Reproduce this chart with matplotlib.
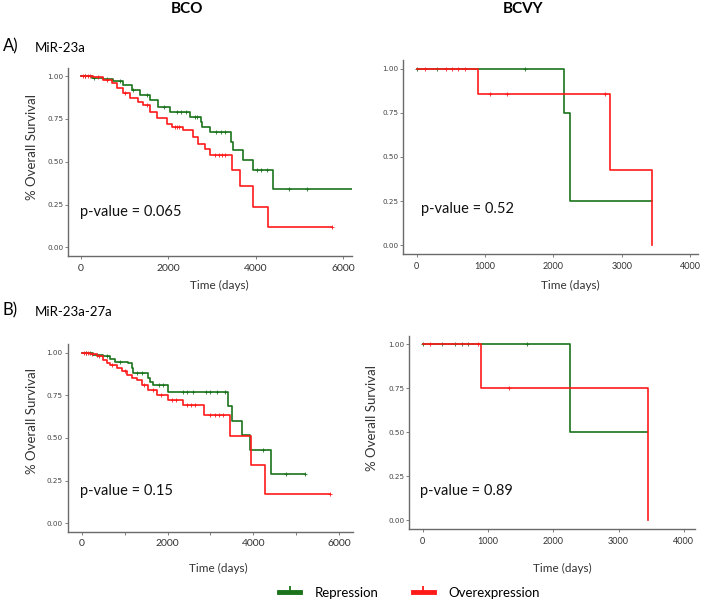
import numpy as np
import matplotlib
matplotlib.use("Agg")
import matplotlib.pyplot as plt
from matplotlib.lines import Line2D

plt.rcParams['font.family'] = ['Lato', 'DejaVu Sans']

# ---- data ----
# A) MiR-23a, BCO
a_bco_rep_t = [0, 250, 510, 740, 970, 1160, 1350, 1580, 1770, 2040, 2500, 2750, 2780, 2950, 3430, 3470, 3720, 3950, 4390]
a_bco_rep_s = [1.0, 0.99, 0.982, 0.971, 0.947, 0.918, 0.889, 0.86, 0.82, 0.79, 0.762, 0.733, 0.703, 0.674, 0.616, 0.567, 0.509, 0.45, 0.339]
a_bco_rep_end = 6400
a_bco_rep_cens = [100, 300, 600, 900, 1200, 1500, 1900, 2200, 2300, 2400, 2600, 2650, 3100, 3200, 3300, 4020, 4130, 4250, 4770, 5170]
a_bco_ove_t = [0, 280, 510, 700, 820, 970, 1120, 1310, 1430, 1580, 1730, 1960, 2080, 2340, 2570, 2690, 2840, 2950, 3465, 3640, 3930, 4275]
a_bco_ove_s = [1.0, 0.996, 0.977, 0.957, 0.928, 0.899, 0.87, 0.85, 0.83, 0.79, 0.753, 0.723, 0.704, 0.684, 0.645, 0.606, 0.577, 0.538, 0.45, 0.357, 0.236, 0.119]
a_bco_ove_end = 5755
a_bco_ove_cens = [50, 100, 150, 200, 400, 600, 1000, 1500, 2150, 2200, 2250, 3070, 3150, 3230, 3300, 5755]

# A) MiR-23a, BCVY
a_bcvy_rep_t = [0, 2160, 2243]
a_bcvy_rep_s = [1.0, 0.75, 0.25]
a_bcvy_rep_end = 3440
a_bcvy_rep_cens = [0, 293, 1585]
a_bcvy_ove_t = [0, 892, 2828, 3440]
a_bcvy_ove_s = [1.0, 0.857, 0.4286, 0.0]
a_bcvy_ove_end = 3440
a_bcvy_ove_cens = [122, 424, 512, 610, 707, 1073, 1317, 2755]

# B) MiR-23a-27a, BCO
b_bco_rep_t = [0, 270, 500, 660, 775, 1085, 1165, 1200, 1550, 1590, 1665, 2015, 3410, 3490, 3735, 3930, 4400]
b_bco_rep_s = [1.0, 0.986, 0.977, 0.963, 0.947, 0.938, 0.909, 0.879, 0.85, 0.83, 0.81, 0.771, 0.688, 0.601, 0.518, 0.43, 0.289]
b_bco_rep_end = 5193
b_bco_rep_cens = [100, 200, 350, 600, 900, 1300, 1400, 1800, 1900, 2370, 2450, 2600, 2900, 3000, 3150, 3340, 4220, 4770, 5193]
b_bco_ove_t = [0, 190, 350, 500, 580, 660, 815, 930, 1045, 1165, 1280, 1395, 1550, 1745, 2015, 2365, 2844, 3465, 3953, 4263]
b_bco_ove_s = [1.0, 0.99, 0.977, 0.957, 0.938, 0.928, 0.909, 0.889, 0.869, 0.85, 0.84, 0.81, 0.781, 0.752, 0.723, 0.693, 0.635, 0.508, 0.342, 0.172]
b_bco_ove_end = 5774
b_bco_ove_cens = [50, 100, 150, 250, 400, 700, 1000, 1450, 1650, 1850, 2100, 2200, 2450, 2550, 2650, 3000, 3100, 3200, 3300, 5774]

# B) MiR-23a-27a, BCVY
b_bcvy_rep_t = [0, 2255]
b_bcvy_rep_s = [1.0, 0.5]
b_bcvy_rep_end = 3430
b_bcvy_rep_cens = [0, 290, 494, 597, 699, 1592]
b_bcvy_ove_t = [0, 893, 3444]
b_bcvy_ove_s = [1.0, 0.75, 0.0]
b_bcvy_ove_end = 3444
b_bcvy_ove_cens = [112, 842, 1326]

pvalues = ["p-value = 0.065", "p-value = 0.52", "p-value = 0.15", "p-value = 0.89"]
groups = ["Repression", "Overexpression"]

GREEN = "#1b731b"
RED = "#ff1a1a"
AXC = "#6a6a6a"

W, H = 701, 610
fig = plt.figure(figsize=(W / 100, H / 100), dpi=100)


def px_axes(l, t, r, b):
    return fig.add_axes([l / W, 1 - b / H, (r - l) / W, (b - t) / H])


def km(ax, t, s, end, cens, color):
    tt = list(t) + [end]
    ss = list(s) + [s[-1]]
    ax.step(tt, ss, where='post', color=color, lw=1.2)
    idx = np.searchsorted(t, cens, side='right') - 1
    ax.plot(cens, np.array(s)[idx], ls='none', marker='+', ms=2.6, mew=0.6, color=color)


def style(ax, xlim, xticks, xsize, minor=None):
    ax.set_xlim(*xlim)
    ax.set_ylim(-0.05, 1.05)
    ax.set_xticks(xticks)
    if minor is not None:
        ax.set_xticks(minor, minor=True)
        ax.tick_params(axis='x', which='minor', length=2, color=AXC, width=0.6)
    ax.set_yticks([0, 0.25, 0.5, 0.75, 1.0])
    ax.set_yticklabels(["0.00", "0.25", "0.50", "0.75", "1.00"], family='DejaVu Sans', fontsize=5.2, color='#444444')
    ax.tick_params(axis='x', labelsize=xsize, colors='#333333', length=2.5, width=0.6, pad=3)
    ax.tick_params(axis='x', labelcolor='#333333', color=AXC)
    ax.tick_params(axis='y', length=2, width=0.6, pad=1.5, color=AXC)
    for sp in ['top', 'right']:
        ax.spines[sp].set_visible(False)
    for sp in ['left', 'bottom']:
        ax.spines[sp].set_color(AXC)
        ax.spines[sp].set_linewidth(1.0)


def xlabel(ax, cx, cy):
    bb = ax.get_position()
    ax.set_xlabel("Time (days)", fontsize=8.5, color='#333333')
    ax.xaxis.set_label_coords((cx / W - bb.x0) / bb.width, ((1 - cy / H) - bb.y0) / bb.height)
    ax.xaxis.label.set_va('center')


def ylabel(ax, cx, cy):
    bb = ax.get_position()
    ax.set_ylabel("% Overall Survival", fontsize=9.5, color='#333333')
    ax.yaxis.set_label_coords((cx / W - bb.x0) / bb.width, ((1 - cy / H) - bb.y0) / bb.height)
    ax.yaxis.label.set_va('center')


# A left
ax1 = px_axes(68, 67.5, 352, 256)
km(ax1, a_bco_rep_t, a_bco_rep_s, a_bco_rep_end, a_bco_rep_cens, GREEN)
km(ax1, a_bco_ove_t, a_bco_ove_s, a_bco_ove_end, a_bco_ove_cens, RED)
style(ax1, (-298, 6206), [0, 2000, 4000, 6000], 7.5)
xlabel(ax1, 219, 285)
ylabel(ax1, 32, 147)

# A right
ax2 = px_axes(403, 60, 698, 254)
km(ax2, a_bcvy_rep_t, a_bcvy_rep_s, a_bcvy_rep_end, a_bcvy_rep_cens, GREEN)
km(ax2, a_bcvy_ove_t, a_bcvy_ove_s, a_bcvy_ove_end, a_bcvy_ove_cens, RED)
style(ax2, (-200, 4116), [0, 1000, 2000, 3000, 4000], 6.5)
xlabel(ax2, 570, 285)

# B left
ax3 = px_axes(67.5, 344, 353, 531.7)
km(ax3, b_bco_rep_t, b_bco_rep_s, b_bco_rep_end, b_bco_rep_cens, GREEN)
km(ax3, b_bco_ove_t, b_bco_ove_s, b_bco_ove_end, b_bco_ove_cens, RED)
style(ax3, (-330, 6320), [0, 2000, 4000, 6000], 7.5, minor=[1000, 3000, 5000])
xlabel(ax3, 218, 568)
ylabel(ax3, 32, 421)

# B right
ax4 = px_axes(409, 335.7, 695, 529)
km(ax4, b_bcvy_rep_t, b_bcvy_rep_s, b_bcvy_rep_end, b_bcvy_rep_cens, GREEN)
km(ax4, b_bcvy_ove_t, b_bcvy_ove_s, b_bcvy_ove_end, b_bcvy_ove_cens, RED)
style(ax4, (-210, 4170), [0, 1000, 2000, 3000, 4000], 6.5)
xlabel(ax4, 562, 568)
ylabel(ax4, 372, 418)

# p-values
for (x, y), txt in zip([(80, 212), (421, 209), (80, 491), (420, 491)], pvalues):
    fig.text(x / W, 1 - y / H, txt, fontsize=10.5, va='center', ha='left', color='#111111')

# headers
fig.text(187 / W, 1 - 9 / H, "BCO", fontsize=11, fontweight='bold', ha='center', va='center')
fig.text(523 / W, 1 - 9 / H, "BCVY", fontsize=11, fontweight='bold', ha='center', va='center')
fig.text(3 / W, 1 - 46 / H, "A)", fontsize=12, ha='left', va='center')
fig.text(35 / W, 1 - 48 / H, "MiR-23a", fontsize=9.5, ha='left', va='center')
fig.text(3 / W, 1 - 310 / H, "B)", fontsize=12, ha='left', va='center')
fig.text(35 / W, 1 - 312 / H, "MiR-23a-27a", fontsize=9.5, ha='left', va='center')

# legend
handles = [Line2D([0], [0], color=c, lw=3.5, marker=2, ms=4, mew=1.3) for c in (GREEN, RED)]
fig.legend(handles, groups, loc='center left', bbox_to_anchor=(279 / W, 1 - 593 / H),
           ncol=2, frameon=False, fontsize=9.5, handlelength=1.6, handletextpad=1.1,
           columnspacing=2.6, borderpad=0, borderaxespad=0)

fig.savefig("out.png", dpi=100)
